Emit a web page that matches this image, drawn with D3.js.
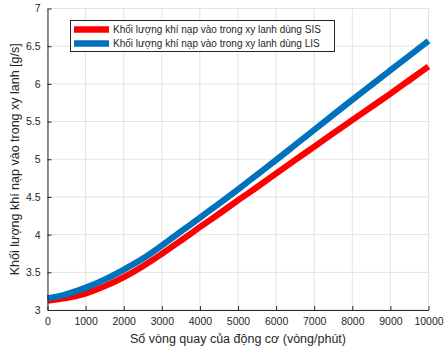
<!DOCTYPE html>
<html><head><meta charset="utf-8">
<script src="https://cdn.jsdelivr.net/npm/d3@7"></script>
<style>body{margin:0;background:#fff}svg{display:block}text{font-family:"Liberation Sans",Arial,sans-serif;fill:#262626}</style>
</head><body><svg id="c" width="444" height="349"></svg>
<script>
const rpm = [0,500,1000,1500,2000,2500,3000,3500,4000,4500,5000,5500,6000,6500,7000,7500,8000,8500,9000,9500,10000];
const sis = [3.125,3.16,3.22,3.315,3.435,3.58,3.745,3.92,4.10,4.275,4.455,4.63,4.81,4.99,5.165,5.345,5.52,5.695,5.87,6.05,6.23];
const lis = [3.155,3.21,3.295,3.405,3.535,3.68,3.855,4.04,4.225,4.41,4.60,4.795,4.99,5.19,5.39,5.59,5.79,5.985,6.18,6.375,6.57];
const xTicks = [0,1000,2000,3000,4000,5000,6000,7000,8000,9000,10000];
const yTicks = [3,3.5,4,4.5,5,5.5,6,6.5,7];
const seriesNames = ["Khối lượng khí nạp vào trong xy lanh dùng SIS","Khối lượng khí nạp vào trong xy lanh dùng LIS"];
const colors = ["#ff0000","#0072bd"];

const svg = d3.select("#c");
const L=47.5, R=428.5, T=8.5, B=310;
const x = d3.scaleLinear().domain([0,10000]).range([L,R]);
const y = d3.scaleLinear().domain([3,7]).range([B,T]);

// grid
const g = svg.append("g");
g.selectAll(".gx").data(xTicks).join("line").attr("x1",d=>x(d)).attr("x2",d=>x(d)).attr("y1",T).attr("y2",B).attr("stroke","#e3e3e3").attr("stroke-width",1);
g.selectAll(".gy").data(yTicks).join("line").attr("y1",d=>y(d)).attr("y2",d=>y(d)).attr("x1",L).attr("x2",R).attr("stroke","#e3e3e3").attr("stroke-width",1);

// lines
const line = d3.line().x((d,i)=>x(rpm[i])).y(d=>y(d)).curve(d3.curveCatmullRom);
[sis,lis].forEach((s,k)=>{
  svg.append("path").attr("d",line(s)).attr("fill","none").attr("stroke",colors[k]).attr("stroke-width",6.2).attr("stroke-linejoin","round");
});

// axes
const xa = svg.append("g").attr("transform",`translate(0,${B})`).call(d3.axisBottom(x).tickValues(xTicks).tickSizeInner(-4).tickSizeOuter(0).tickPadding(8).tickFormat(d3.format("d")));
const ya = svg.append("g").attr("transform",`translate(${L},0)`).call(d3.axisLeft(y).tickValues(yTicks).tickSizeInner(-4).tickSizeOuter(0).tickPadding(7).tickFormat(d=>String(d)));
[xa,ya].forEach(a=>{a.select(".domain").attr("stroke","#262626");a.selectAll(".tick line").attr("stroke","#262626");a.selectAll("text").attr("font-size",10.5).attr("fill","#262626").attr("font-family","Liberation Sans, Arial, sans-serif");});

svg.append("text").attr("x",(L+R)/2).attr("y",343).attr("text-anchor","middle").attr("font-size",12.5).text("Số vòng quay của động cơ (vòng/phút)");
svg.append("text").attr("transform",`translate(19,${(T+B)/2}) rotate(-90)`).attr("text-anchor","middle").attr("font-size",12.5).text("Khối lượng khí nạp vào trong xy lanh [g/s]");

// legend
const lg = svg.append("g");
lg.append("rect").attr("x",70.5).attr("y",20.5).attr("width",264).attr("height",31).attr("fill","#fff").attr("stroke","#262626").attr("stroke-width",1);
seriesNames.forEach((n,k)=>{
  const yy = 29.5 + k*14;
  lg.append("line").attr("x1",74).attr("x2",109).attr("y1",yy).attr("y2",yy).attr("stroke",colors[k]).attr("stroke-width",6.5);
  lg.append("text").attr("x",113).attr("y",yy+3.5).attr("font-size",10).text(n);
});
</script></body></html>
